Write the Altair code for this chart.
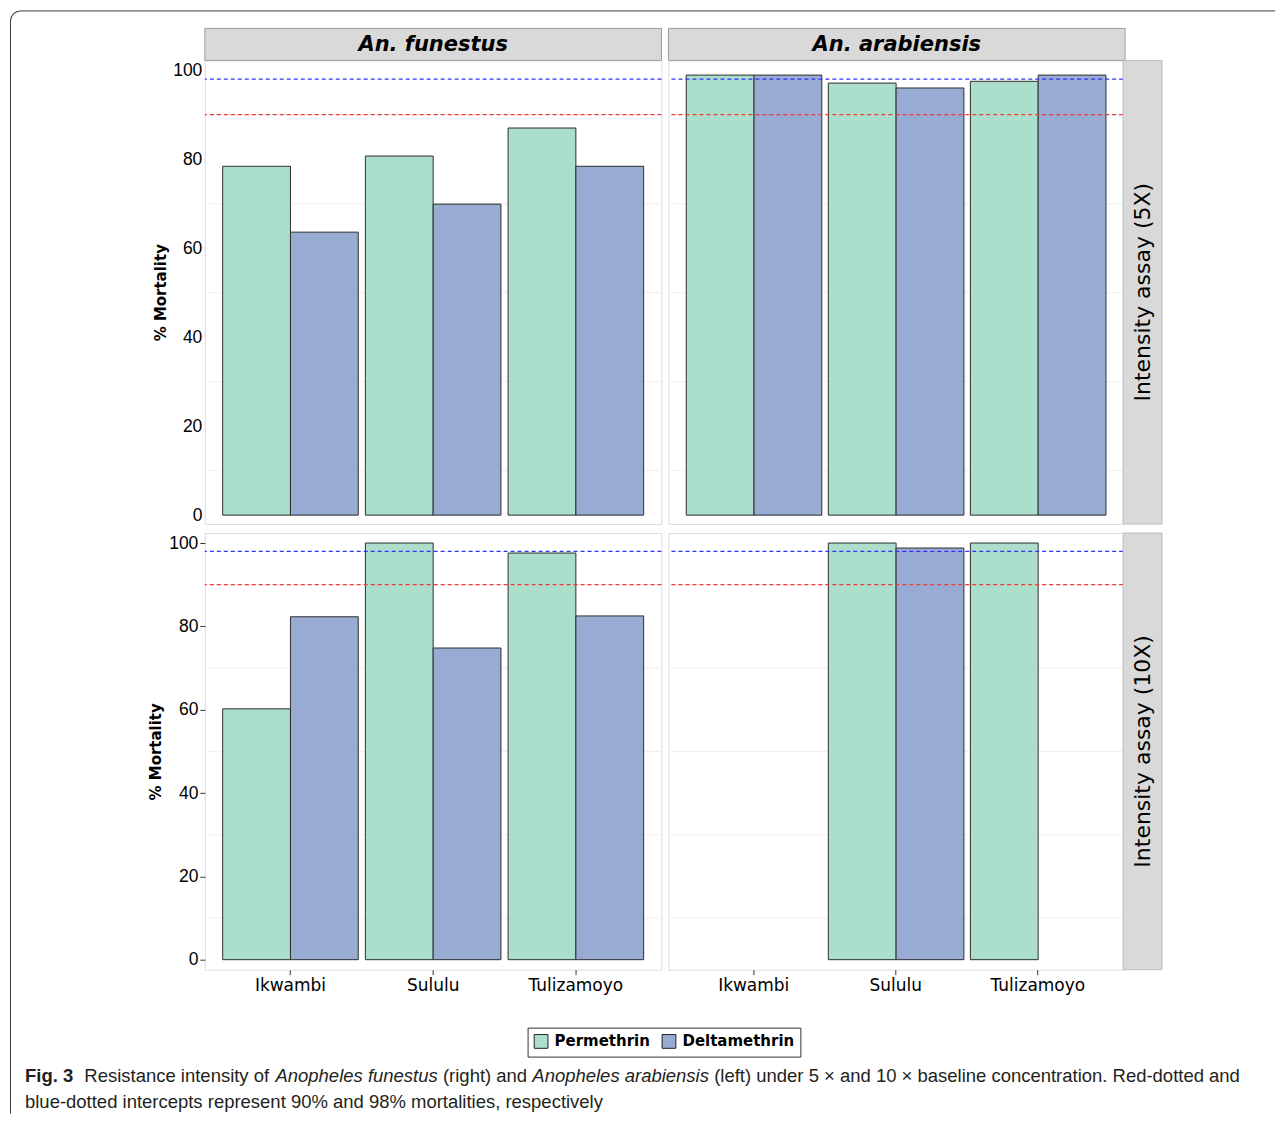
import glob
import altair as alt
import pandas as pd

# ---------------- data ----------------
sites = ["Ikwambi", "Sululu", "Tulizamoyo"]
insecticides = ["Permethrin", "Deltamethrin"]
species = ["An. funestus", "An. arabiensis"]
assays = ["Intensity assay (5X)", "Intensity assay (10X)"]

# % mortality per site (Ikwambi, Sululu, Tulizamoyo); None = not tested
funestus_5x_perm = [78.4, 80.7, 87.0]
funestus_5x_delt = [63.6, 69.9, 78.4]
arabiensis_5x_perm = [98.9, 97.1, 97.5]
arabiensis_5x_delt = [98.9, 96.0, 98.9]
funestus_10x_perm = [60.2, 100.0, 97.6]
funestus_10x_delt = [82.3, 74.8, 82.5]
arabiensis_10x_perm = [None, 100.0, 100.0]
arabiensis_10x_delt = [None, 98.8, None]

thresholds = [90, 98]
threshold_colors = ["#f03a3a", "#3030ff"]
bar_colors = ["#abdfcc", "#98abd3"]
y_ticks = [0, 20, 40, 60, 80, 100]
minor_grid = [10, 30, 50, 70, 90]

caption_line1 = [
    ("Fig. 3", "bold"),
    ("Resistance intensity of", "normal"),
    ("Anopheles funestus", "italic"),
    ("(right) and", "normal"),
    ("Anopheles arabiensis", "italic"),
    ("(left) under 5 × and 10 × baseline concentration. Red-dotted and", "normal"),
]
caption_line2 = "blue-dotted intercepts represent 90% and 98% mortalities, respectively"
# Arial-compatible advance widths (em) of the caption segments and gaps after them
caption_em = [2.612, 10.06, 8.783, 4.557, 9.56, 28.461]
caption_gap_em = [0.6, 0.278, 0.278, 0.278, 0.278, 0.0]

# ---------------- layout ----------------
W = [457, 455]
H = [464, 437]
YDOM = [[-2.0, 102.2], [-2.4, 102.4]]

if glob.glob("/usr/share/fonts/**/LiberationSansNarrow-Regular.ttf", recursive=True):
    CAP_FONT, CAP_SIZE, CAP_FACTOR = "Liberation Sans Narrow", 22.5, 0.82
else:
    CAP_FONT, CAP_SIZE, CAP_FACTOR = "Liberation Sans", 18.5, 1.0

UI_FONT = "DejaVu Sans"

LEGEND = alt.Legend(
    orient="none", legendX=323, legendY=968, direction="horizontal",
    title=None, symbolType="square", symbolSize=190,
    symbolStrokeColor="#222222", symbolStrokeWidth=1, symbolOpacity=1,
    labelFont=UI_FONT, labelFontWeight="bold", labelFontSize=15,
    labelColor="black", labelOffset=6, columnPadding=9,
    strokeColor="#333333", fillColor="white", padding=6,
)


def panel_df(perm, delt):
    rows = []
    for s, p, d in zip(sites, perm, delt):
        if p is not None:
            rows.append({"site": s, "insecticide": "Permethrin", "mortality": p})
        if d is not None:
            rows.append({"site": s, "insecticide": "Deltamethrin", "mortality": d})
    return pd.DataFrame(rows)


one = pd.DataFrame({"k": [0]})


def make_panel(perm, delt, sp, asy):
    width, height = W[sp], H[asy]
    left = sp == 0
    bottom = asy == 1
    yscale = alt.Scale(domain=YDOM[asy], nice=False, zero=False)
    layers = []

    yaxis = None
    if left:
        yaxis = alt.Axis(
            values=y_ticks, title="% Mortality", grid=False, domain=False,
            ticks=bottom, tickSize=5, tickColor="#333333",
            labelFont="Liberation Sans", labelFontSize=17.5, labelColor="black",
            labelPadding=2 if bottom else 3,
            titleFont=UI_FONT, titleFontSize=15, titleFontWeight="bold",
            titleColor="black", titlePadding=5 if bottom else 4,
        )
    xaxis = None
    if bottom:
        xaxis = alt.Axis(
            title=None, labelAngle=0, grid=False, domain=False, ticks=True,
            tickSize=5, tickColor="#333333", labelFont=UI_FONT,
            labelFontSize=17, labelColor="black", labelPadding=3,
        )

    grid = alt.Chart(pd.DataFrame({"g": minor_grid})).mark_rule(
        color="#efefef", strokeWidth=1
    ).encode(y=alt.Y("g:Q", scale=yscale, axis=yaxis))
    layers.append(grid)

    bars = alt.Chart(panel_df(perm, delt)).mark_bar(
        stroke="#2e2e2e", strokeWidth=1
    ).encode(
        x=alt.X("site:N", sort=sites,
                scale=alt.Scale(domain=sites, paddingInner=0.05, paddingOuter=0.125),
                axis=xaxis),
        xOffset=alt.XOffset("insecticide:N", sort=insecticides,
                            scale=alt.Scale(domain=insecticides, paddingInner=0, paddingOuter=0)),
        y=alt.Y("mortality:Q", scale=yscale, axis=yaxis),
        color=alt.Color("insecticide:N", sort=insecticides,
                        scale=alt.Scale(domain=insecticides, range=bar_colors),
                        legend=LEGEND),
    )
    layers.append(bars)

    for v, c in zip(thresholds, threshold_colors):
        layers.append(
            alt.Chart(pd.DataFrame({"v": [v]})).mark_rule(
                color=c, strokeDash=[4, 3], strokeWidth=1.2
            ).encode(y=alt.Y("v:Q", scale=yscale, axis=yaxis))
        )

    if asy == 0:  # species strip on top
        sw = width + (2 if sp == 1 else 0)
        sdf = pd.DataFrame({"label": [species[sp]]})
        layers.append(alt.Chart(sdf).mark_rect(
            fill="#d9d9d9", stroke="#9e9e9e", strokeWidth=1
        ).encode(x=alt.value(0), x2=alt.value(sw), y=alt.value(-32), y2=alt.value(0)))
        layers.append(alt.Chart(sdf).mark_text(
            font=UI_FONT, fontSize=21, fontStyle="italic", fontWeight="bold",
            color="black", baseline="middle", align="center"
        ).encode(x=alt.value(sw / 2), y=alt.value(-15), text="label:N"))

    if sp == 1:  # assay strip on the right
        adf = pd.DataFrame({"label": [assays[asy]]})
        layers.append(alt.Chart(adf).mark_rect(
            fill="#d9d9d9", stroke="#bdbdbd", strokeWidth=1
        ).encode(x=alt.value(width), x2=alt.value(width + 39), y=alt.value(0), y2=alt.value(height)))
        layers.append(alt.Chart(adf).mark_text(
            font=UI_FONT, fontSize=22, angle=270, color="black",
            baseline="middle", align="center"
        ).encode(x=alt.value(width + 20), y=alt.value(height / 2), text="label:N"))

    if sp == 0 and asy == 0:  # outer figure frame
        fc = "#3a3a3a"
        layers.append(alt.Chart(one).mark_rule(color=fc, strokeWidth=1).encode(
            x=alt.value(-184.5), x2=alt.value(1071), y=alt.value(-49.5)))
        layers.append(alt.Chart(one).mark_rule(color=fc, strokeWidth=1).encode(
            x=alt.value(-194.5), y=alt.value(-39.5), y2=alt.value(1054)))
        layers.append(alt.Chart(one).mark_arc(
            color=fc, radius=10.5, radius2=9.5, theta=4.712389, theta2=6.283185
        ).encode(x=alt.value(-184.5), y=alt.value(-39.5)))

    if sp == 0 and asy == 1:  # caption
        cur = -180.0
        for (txt, style), em, gap in zip(caption_line1, caption_em, caption_gap_em):
            kw = dict(font=CAP_FONT, fontSize=CAP_SIZE, color="#231f20",
                      align="left", baseline="alphabetic", text=txt)
            if style == "bold":
                kw["fontWeight"] = "bold"
            if style == "italic":
                kw["fontStyle"] = "italic"
            layers.append(alt.Chart(one).mark_text(**kw).encode(
                x=alt.value(cur), y=alt.value(549)))
            cur += (em + gap) * CAP_SIZE * CAP_FACTOR
        layers.append(alt.Chart(one).mark_text(
            font=CAP_FONT, fontSize=CAP_SIZE, color="#231f20", align="left",
            baseline="alphabetic", text=caption_line2
        ).encode(x=alt.value(-180), y=alt.value(575)))

    return alt.layer(*layers).properties(width=width, height=height)


p00 = make_panel(funestus_5x_perm, funestus_5x_delt, 0, 0)
p01 = make_panel(arabiensis_5x_perm, arabiensis_5x_delt, 1, 0)
p10 = make_panel(funestus_10x_perm, funestus_10x_delt, 0, 1)
p11 = make_panel(arabiensis_10x_perm, arabiensis_10x_delt, 1, 1)

chart = alt.concat(
    p00, p01, p10, p11, columns=2, spacing={"row": 9, "column": 7}, bounds="flush"
).properties(
    padding={"left": 1, "top": 1, "right": 0, "bottom": 0}
).configure_view(
    stroke="#7a7a7a", strokeWidth=1
).configure(background="white")

chart.save("out.html", embed_options={"renderer": "svg", "actions": False})
